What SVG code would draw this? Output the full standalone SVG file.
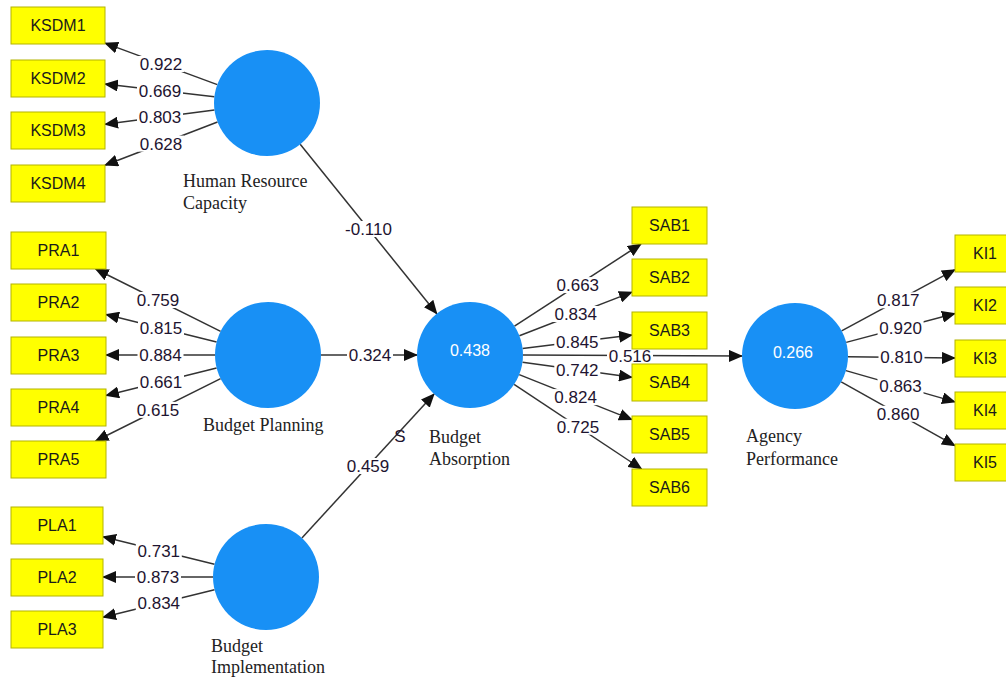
<svg xmlns="http://www.w3.org/2000/svg" width="1006" height="679" viewBox="0 0 1006 679">
<style>
.ind rect{fill:#ffff00;stroke:#b4b400;stroke-width:1}
.ind text{font-family:"Liberation Sans",Arial,sans-serif;font-size:16px;fill:#1a1a1a;text-anchor:middle}
.lv circle{fill:#1890f5}
.lv .val{font-family:"Liberation Sans",Arial,sans-serif;font-size:16px;fill:#ffffff;text-anchor:middle}
.lv .name{font-family:"Liberation Serif","Times New Roman",serif;font-size:18px;fill:#222222}
.edges line{stroke:#333333;stroke-width:1.5;marker-end:url(#ah)}
.lbl rect{fill:#ffffff}
.lbl text{font-family:"Liberation Sans",Arial,sans-serif;font-size:17px;fill:#1e1430;text-anchor:middle}
</style>
<defs>
<marker id="ah" markerUnits="userSpaceOnUse" markerWidth="14" markerHeight="12" refX="13" refY="6" orient="auto" viewBox="0 0 14 12">
<path d="M0,0 L14,6 L0,12 z" fill="#111111"/>
</marker>
</defs>
<rect width="1006" height="679" fill="#ffffff"/>
<g id="connectors">
<g class="edges">
<line x1="217.3" y1="84.6" x2="105" y2="43.1"/>
<line x1="214.4" y1="96.8" x2="105" y2="84.1"/>
<line x1="214.5" y1="109.9" x2="105" y2="124.3"/>
<line x1="217.5" y1="122" x2="105" y2="165.2"/>
<line x1="220.6" y1="331.3" x2="95.6" y2="269"/>
<line x1="216.6" y1="342.1" x2="106" y2="314.4"/>
<line x1="215" y1="355" x2="106" y2="355"/>
<line x1="216.6" y1="367.9" x2="106" y2="395.6"/>
<line x1="220.6" y1="378.7" x2="95.6" y2="441"/>
<line x1="214.5" y1="564.3" x2="103" y2="536.8"/>
<line x1="213" y1="577" x2="103" y2="577"/>
<line x1="214.5" y1="589.7" x2="103" y2="617.2"/>
<line x1="300.2" y1="144.3" x2="436.8" y2="313.7"/>
<line x1="321" y1="355" x2="417" y2="355"/>
<line x1="301.9" y1="538" x2="434.1" y2="394"/>
<line x1="523" y1="355" x2="742" y2="356"/>
<line x1="514.5" y1="326.2" x2="641" y2="244"/>
<line x1="519.4" y1="335.8" x2="632" y2="292.1"/>
<line x1="522.6" y1="348.5" x2="632" y2="335.1"/>
<line x1="522.5" y1="362.2" x2="632" y2="377.3"/>
<line x1="519.2" y1="374.6" x2="632" y2="419.6"/>
<line x1="514.1" y1="384.3" x2="641.6" y2="469"/>
<line x1="841.6" y1="330.8" x2="955" y2="269.7"/>
<line x1="846.2" y1="342.4" x2="955" y2="313.5"/>
<line x1="848" y1="356.7" x2="955" y2="358.1"/>
<line x1="845.9" y1="370.6" x2="955" y2="401.9"/>
<line x1="841.2" y1="381.9" x2="955" y2="445.7"/>
</g>
<g class="lbl">
<rect x="138" y="56" width="46" height="16"/><text x="161" y="70">0.922</text>
<rect x="137" y="82.5" width="46" height="16"/><text x="160" y="96.5">0.669</text>
<rect x="137" y="109" width="46" height="16"/><text x="160" y="123">0.803</text>
<rect x="138" y="135.6" width="46" height="16"/><text x="161" y="149.6">0.628</text>
<rect x="135" y="292" width="46" height="16"/><text x="158" y="306">0.759</text>
<rect x="138" y="320" width="46" height="16"/><text x="161" y="334">0.815</text>
<rect x="137.5" y="347" width="46" height="16"/><text x="160.5" y="361">0.884</text>
<rect x="138" y="373.7" width="46" height="16"/><text x="161" y="387.7">0.661</text>
<rect x="135" y="401.9" width="46" height="16"/><text x="158" y="415.9">0.615</text>
<rect x="135.8" y="542.6" width="46" height="16"/><text x="158.8" y="556.6">0.731</text>
<rect x="135" y="569" width="46" height="16"/><text x="158" y="583">0.873</text>
<rect x="135.8" y="595.4" width="46" height="16"/><text x="158.8" y="609.4">0.834</text>
<rect x="341.5" y="221" width="54" height="16"/><text x="368.5" y="235">-0.110</text>
<rect x="347" y="347" width="46" height="16"/><text x="370" y="361">0.324</text>
<rect x="345" y="458" width="46" height="16"/><text x="368" y="472">0.459</text>
<rect x="607" y="348" width="46" height="16"/><text x="630" y="362">0.516</text>
<rect x="554.8" y="277.1" width="46" height="16"/><text x="577.8" y="291.1">0.663</text>
<rect x="552.7" y="306" width="46" height="16"/><text x="575.7" y="320">0.834</text>
<rect x="554.3" y="333.8" width="46" height="16"/><text x="577.3" y="347.8">0.845</text>
<rect x="554.3" y="361.8" width="46" height="16"/><text x="577.3" y="375.8">0.742</text>
<rect x="552.6" y="389.1" width="46" height="16"/><text x="575.6" y="403.1">0.824</text>
<rect x="554.9" y="418.7" width="46" height="16"/><text x="577.9" y="432.7">0.725</text>
<rect x="875.3" y="292.3" width="46" height="16"/><text x="898.3" y="306.3">0.817</text>
<rect x="877.6" y="320" width="46" height="16"/><text x="900.6" y="334">0.920</text>
<rect x="878.5" y="349.4" width="46" height="16"/><text x="901.5" y="363.4">0.810</text>
<rect x="877.5" y="378.3" width="46" height="16"/><text x="900.5" y="392.3">0.863</text>
<rect x="875.1" y="405.8" width="46" height="16"/><text x="898.1" y="419.8">0.860</text>
<text x="400" y="442">S</text>
</g>
</g>
<g id="KSDM1" class="ind"><rect x="11" y="7" width="94" height="37"/><text x="58" y="31">KSDM1</text></g>
<g id="KSDM2" class="ind"><rect x="11" y="60" width="94" height="37"/><text x="58" y="84">KSDM2</text></g>
<g id="KSDM3" class="ind"><rect x="11" y="112" width="94" height="37"/><text x="58" y="136">KSDM3</text></g>
<g id="KSDM4" class="ind"><rect x="11" y="165" width="94" height="37"/><text x="58" y="189">KSDM4</text></g>
<g id="PRA1" class="ind"><rect x="11" y="232" width="95" height="37"/><text x="58.5" y="256">PRA1</text></g>
<g id="PRA2" class="ind"><rect x="11" y="284" width="95" height="37"/><text x="58.5" y="308">PRA2</text></g>
<g id="PRA3" class="ind"><rect x="11" y="337" width="95" height="37"/><text x="58.5" y="361">PRA3</text></g>
<g id="PRA4" class="ind"><rect x="11" y="389" width="95" height="37"/><text x="58.5" y="413">PRA4</text></g>
<g id="PRA5" class="ind"><rect x="11" y="441" width="95" height="37"/><text x="58.5" y="465">PRA5</text></g>
<g id="PLA1" class="ind"><rect x="11" y="507" width="92" height="37"/><text x="57" y="531">PLA1</text></g>
<g id="PLA2" class="ind"><rect x="11" y="559" width="92" height="37"/><text x="57" y="583">PLA2</text></g>
<g id="PLA3" class="ind"><rect x="11" y="611" width="92" height="37"/><text x="57" y="635">PLA3</text></g>
<g id="SAB1" class="ind"><rect x="632" y="207" width="75" height="37"/><text x="669.5" y="231">SAB1</text></g>
<g id="SAB2" class="ind"><rect x="632" y="259" width="75" height="37"/><text x="669.5" y="283">SAB2</text></g>
<g id="SAB3" class="ind"><rect x="632" y="312" width="75" height="37"/><text x="669.5" y="336">SAB3</text></g>
<g id="SAB4" class="ind"><rect x="632" y="364" width="75" height="37"/><text x="669.5" y="388">SAB4</text></g>
<g id="SAB5" class="ind"><rect x="632" y="416" width="75" height="37"/><text x="669.5" y="440">SAB5</text></g>
<g id="SAB6" class="ind"><rect x="632" y="469" width="75" height="37"/><text x="669.5" y="493">SAB6</text></g>
<g id="KI1" class="ind"><rect x="955" y="235" width="60" height="37"/><text x="985" y="259">KI1</text></g>
<g id="KI2" class="ind"><rect x="955" y="287" width="60" height="37"/><text x="985" y="311">KI2</text></g>
<g id="KI3" class="ind"><rect x="955" y="340" width="60" height="37"/><text x="985" y="364">KI3</text></g>
<g id="KI4" class="ind"><rect x="955" y="392" width="60" height="37"/><text x="985" y="416">KI4</text></g>
<g id="KI5" class="ind"><rect x="955" y="444" width="60" height="37"/><text x="985" y="468">KI5</text></g>
<g id="HRC" class="lv"><circle cx="267" cy="103" r="53"/><text class="name" x="183" y="187">Human Resource</text><text class="name" x="183" y="209">Capacity</text></g>
<g id="BP" class="lv"><circle cx="268" cy="355" r="53"/><text class="name" x="203" y="431">Budget Planning</text></g>
<g id="BI" class="lv"><circle cx="266" cy="577" r="53"/><text class="name" x="211" y="652">Budget</text><text class="name" x="211" y="673">Implementation</text></g>
<g id="BA" class="lv"><circle cx="470" cy="355" r="53"/><text class="val" x="470" y="356">0.438</text><text class="name" x="429" y="443">Budget</text><text class="name" x="429" y="465">Absorption</text></g>
<g id="AP" class="lv"><circle cx="795" cy="356" r="53"/><text class="val" x="793" y="358">0.266</text><text class="name" x="746" y="442">Agency</text><text class="name" x="746" y="465">Performance</text></g>
</svg>
